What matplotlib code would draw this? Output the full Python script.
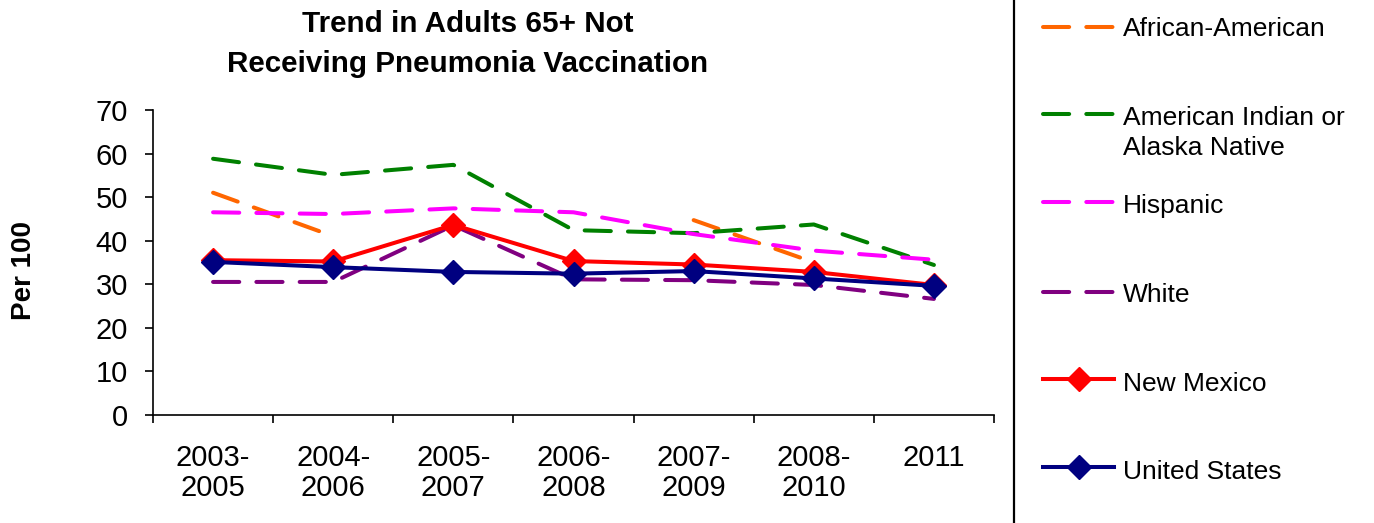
"""Trend in adults 65+ not receiving pneumonia vaccination, by group."""

import matplotlib

matplotlib.use("Agg")
import matplotlib.pyplot as plt
import numpy as np

plt.rcParams["font.family"] = ["Liberation Sans", "DejaVu Sans"]

periods = ["2003-\n2005", "2004-\n2006", "2005-\n2007", "2006-\n2008",
           "2007-\n2009", "2008-\n2010", "2011"]

african_american = [51.0, 41.0, np.nan, np.nan, 44.7, 35.0, np.nan]
american_indian = [58.8, 55.1, 57.4, 42.4, 41.7, 43.7, 34.4]
hispanic = [46.5, 46.1, 47.4, 46.5, 41.5, 37.7, 35.6]
white = [30.5, 30.5, 43.5, 31.1, 30.9, 29.8, 26.6]
new_mexico = [35.5, 35.2, 43.6, 35.3, 34.5, 32.8, 29.8]
united_states = [35.1, 33.9, 32.8, 32.4, 33.0, 31.3, 29.6]

series = [
    ("African-American", african_american, "#FF6600", "dash"),
    ("American Indian or\nAlaska Native", american_indian, "#008000", "dash"),
    ("Hispanic", hispanic, "#FF00FF", "dash"),
    ("White", white, "#800080", "dash"),
    ("New Mexico", new_mexico, "#FF0000", "marker"),
    ("United States", united_states, "#000080", "marker"),
]

W, H = 1374, 523
fig = plt.figure(figsize=(W / 100, H / 100), dpi=100)

ax = fig.add_axes([153 / W, 1 - 414.7 / H, (994 - 153) / W, (414.7 - 110) / H])
x = np.arange(len(periods))

LW = 2.9
DASH = (6.5, 4.25)
MS = 12.5


def style(kind, color):
    if kind == "dash":
        return dict(color=color, lw=LW, dashes=DASH, dash_capstyle="round")
    return dict(color=color, lw=LW, marker="D", markersize=MS,
                markerfacecolor=color, markeredgecolor=color)


for name, vals, color, kind in series:
    ax.plot(x, vals, **style(kind, color))

ax.set_xlim(-0.5, len(periods) - 0.5)
ax.set_ylim(0, 70)
ax.set_yticks(range(0, 71, 10))
ax.set_xticks(np.arange(-0.5, len(periods), 1.0))
ax.set_xticklabels([])
ax.set_xticks(x, minor=True)
ax.set_xticklabels(periods, minor=True)
ax.tick_params(axis="x", which="major", direction="out", length=6, width=1.2)
ax.tick_params(axis="x", which="minor", length=0, pad=21, labelsize=21)
ax.tick_params(axis="y", direction="out", length=6, width=1.2, pad=12, labelsize=21)
for lab in ax.get_xticklabels(minor=True):
    lab.set_linespacing(1.1)
for side in ("top", "right"):
    ax.spines[side].set_visible(False)
for side in ("left", "bottom"):
    ax.spines[side].set_linewidth(1.2)

ax.set_ylabel("Per 100", fontsize=20, fontweight="bold", labelpad=0)
ax.yaxis.set_label_coords(-116 / (994 - 153), (414.7 - 271) / (414.7 - 110))

fig.text(468 / W, 1 - 44 / H, "Trend in Adults 65+ Not\nReceiving Pneumonia Vaccination",
         ha="center", va="center", fontsize=21.3, fontweight="bold", linespacing=1.5)

# legend panel, drawn in pixel coordinates
leg = fig.add_axes([0, 0, 1, 1], facecolor="none")
leg.set_xlim(0, W)
leg.set_ylim(H, 0)
leg.axis("off")
leg.plot([1014, 1014], [0, H], color="black", lw=1.6)
legend_y = [27, 114, 202, 292, 379, 467]
text_y = [29, 133, 206, 295, 384, 472]
for (name, vals, color, kind), ly, ty in zip(series, legend_y, text_y):
    st = style(kind, color)
    st.pop("marker", None)
    leg.plot([1043, 1114], [ly, ly], **st)
    if kind == "marker":
        leg.plot([1078.5], [ly], marker="D", markersize=MS, color=color, lw=0)
    leg.text(1123, ty, name, fontsize=19, va="center", ha="left", linespacing=1.3)

fig.savefig("out.png", dpi=100)
